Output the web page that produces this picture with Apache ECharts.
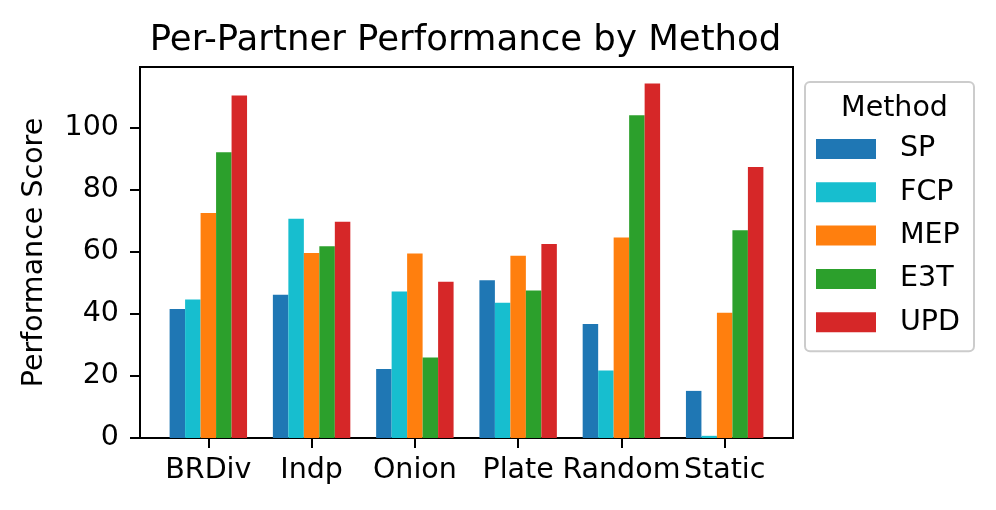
<!DOCTYPE html>
<html>
<head>
<meta charset="utf-8">
<script src="https://cdn.jsdelivr.net/npm/echarts@6/dist/echarts.min.js"></script>
<style>
  html, body { margin: 0; padding: 0; background: #fff; }
  #chart { width: 996px; height: 510px; }
</style>
</head>
<body>
<div id="chart"></div>
<script>
// partners on the x axis
const partners = ['BRDiv', 'Indp', 'Onion', 'Plate', 'Random', 'Static'];
// method scores, one array per method (same order as partners)
const spScores  = [41.6, 46.2, 22.3, 50.9, 36.8, 15.2];
const fcpScores = [44.7, 70.7, 47.3, 43.6, 21.8, 0.7];
const mepScores = [72.6, 59.7, 59.5, 58.8, 64.7, 40.4];
const e3tScores = [92.2, 61.9, 26.0, 47.6, 104.1, 67.0];
const updScores = [110.5, 69.8, 50.4, 62.6, 114.4, 87.4];
const yTicks = [0, 20, 40, 60, 80, 100];

const methods = [
  { name: 'SP',  data: spScores,  color: '#1f77b4' },
  { name: 'FCP', data: fcpScores, color: '#17becf' },
  { name: 'MEP', data: mepScores, color: '#ff7f0e' },
  { name: 'E3T', data: e3tScores, color: '#2ca02c' },
  { name: 'UPD', data: updScores, color: '#d62728' }
];

const font = 'DejaVu Sans';
const yMax = 119.7;

const chart = echarts.init(document.getElementById('chart'));
chart.setOption({
  animation: false,
  backgroundColor: '#fff',
  textStyle: { fontFamily: font },
  title: [
    {
      text: 'Per-Partner Performance by Method',
      left: 460.5, top: 18, textAlign: 'center',
      textStyle: { fontFamily: font, fontSize: 35.5, fontWeight: 'normal', color: '#000' }
    },
    {
      text: 'Method',
      left: 889.5, top: 89, textAlign: 'center',
      textStyle: { fontFamily: font, fontSize: 28.5, fontWeight: 'normal', color: '#000' }
    }
  ],
  legend: {
    orient: 'vertical',
    left: 805, top: 82,
    padding: [52, 14, 14, 11],
    itemWidth: 60, itemHeight: 20, itemGap: 13.3,
    icon: 'rect',
    borderColor: '#cccccc', borderWidth: 2, borderRadius: 5,
    backgroundColor: '#fff',
    itemStyle: { borderWidth: 0 },
    textStyle: { fontFamily: font, fontSize: 28.5, color: '#000', lineHeight: 30, padding: [0, 0, 0, 19] },
    data: methods.map(m => m.name)
  },
  grid: [
    // frame grid
    { left: 140, right: 203, top: 67, bottom: 72, show: true, borderColor: '#000', borderWidth: 2, backgroundColor: 'transparent' },
    // bars grid (narrower so categories line up with the matplotlib spacing)
    { left: 156.7, right: 219.7, top: 67, bottom: 72 }
  ],
  xAxis: [
    { gridIndex: 0, type: 'value', show: false, min: 0, max: 1 },
    {
      gridIndex: 1, type: 'category', data: partners,
      axisLine: { show: false },
      axisTick: { show: true, alignWithLabel: true, length: 10, lineStyle: { color: '#000', width: 2 } },
      axisLabel: { interval: 0, margin: 18, fontFamily: font, fontSize: 28.5, color: '#000' }
    }
  ],
  yAxis: [
    {
      gridIndex: 0, type: 'value', min: 0, max: yMax,
      name: 'Performance Score', nameLocation: 'middle', nameGap: 91,
      nameTextStyle: { fontFamily: font, fontSize: 28.5, color: '#000' },
      axisLine: { show: false },
      splitLine: { show: false },
      axisTick: { show: true, length: 10, customValues: yTicks, lineStyle: { color: '#000', width: 2 } },
      axisLabel: { customValues: yTicks, margin: 21, fontFamily: font, fontSize: 28.5, color: '#000' }
    },
    { gridIndex: 1, type: 'value', min: 0, max: yMax, show: false, splitLine: { show: false } }
  ],
  series: methods.map(m => ({
    name: m.name,
    type: 'bar',
    xAxisIndex: 1, yAxisIndex: 1,
    data: m.data,
    barGap: 0,
    barCategoryGap: '25%',
    itemStyle: { color: m.color }
  }))
});
</script>
</body>
</html>
